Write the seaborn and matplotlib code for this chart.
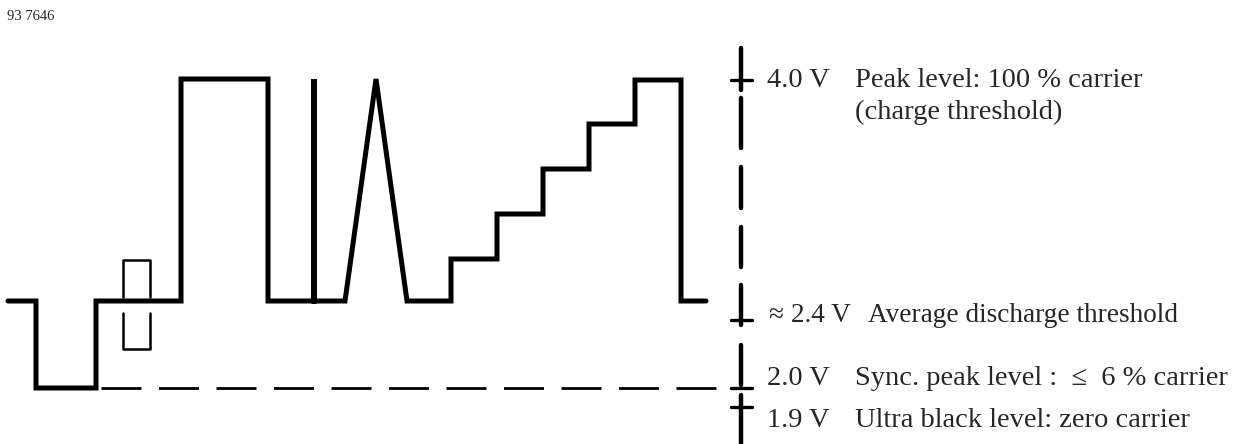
import matplotlib
matplotlib.use("Agg")
import matplotlib.pyplot as plt
import seaborn as sns

# waveform (drawing units: x to the right, y downwards)
wave_x = [8, 36, 36, 96, 96, 181, 181, 268, 268, 314, 314, 314, 345, 376, 407,
          451, 451, 497, 497, 543, 543, 589, 589, 635, 635, 681, 681, 706]
wave_y = [301, 301, 388, 388, 301, 301, 79, 79, 301, 301, 79, 301, 301, 79, 301,
          301, 259, 259, 214, 214, 169, 169, 124, 124, 80, 80, 301, 301]

# small pulse marker around the black level
marker_top_x = [123, 123, 150, 150]
marker_top_y = [297, 260, 260, 297]
marker_bot_x = [123, 123, 150, 150]
marker_bot_y = [313, 349, 349, 313]

# sync level dashed reference
sync_x = [101, 716]
sync_y = [388, 388]

# right scale: dash segments and level ticks
scale_x = 741
scale_segments = [(48, 90), (98, 148), (167, 208), (227, 267),
                  (285, 325), (345, 385), (395, 444)]
tick_levels = [80, 320, 388, 407]

volt_labels = ["4.0 V", "\u2248 2.4 V", "2.0 V", "1.9 V"]
volt_text_y = [87, 322, 385, 427]
volt_text_x = [767, 769, 767, 767]
descr_labels = ["Peak level: 100 % carrier",
                "Average discharge threshold",
                "Sync. peak level :  \u2264  6 % carrier",
                "Ultra black level: zero carrier"]
descr_text_x = [855, 868, 855, 855]
row_sizes = [20.5, 19.6, 20.5, 20.5]
note_label = "(charge threshold)"

sns.set_style("white")
plt.rcParams['font.family'] = ['Liberation Serif', 'DejaVu Serif']
plt.rcParams['lines.scale_dashes'] = False

fig = plt.figure(figsize=(12.46, 4.44), dpi=100)
ax = fig.add_axes([0, 0, 1, 1])

sns.lineplot(x=wave_x, y=wave_y, sort=False, estimator=None, color="black",
             linewidth=3.6, ax=ax)
for line in ax.lines:
    line.set_solid_capstyle("round")
    line.set_solid_joinstyle("miter")

ax.plot(marker_top_x, marker_top_y, color="black", lw=1.8)
ax.plot(marker_bot_x, marker_bot_y, color="black", lw=1.8)

ax.plot(sync_x, sync_y, color="black", lw=2.0, dashes=(28.8, 12.6))

for y0, y1 in scale_segments:
    ax.plot([scale_x, scale_x], [y0, y1], color="black", lw=3.2,
            solid_capstyle="round")
for ty in tick_levels:
    ax.plot([scale_x - 10, scale_x + 11], [ty, ty], color="black", lw=2.4)

for lab, tx, ty, fs in zip(volt_labels, volt_text_x, volt_text_y, row_sizes):
    ax.text(tx, ty, lab, fontsize=fs, va="baseline", ha="left")
for lab, tx, ty, fs in zip(descr_labels, descr_text_x, volt_text_y, row_sizes):
    ax.text(tx, ty, lab, fontsize=fs, va="baseline", ha="left")
ax.text(855, 119, note_label, fontsize=20.5, va="baseline", ha="left")

ax.text(7, 20, "93 7646", fontsize=10.5, va="baseline", ha="left")

ax.set_xlim(0, 1246)
ax.set_ylim(444, 0)
ax.axis("off")

fig.savefig("out.png", dpi=100)
